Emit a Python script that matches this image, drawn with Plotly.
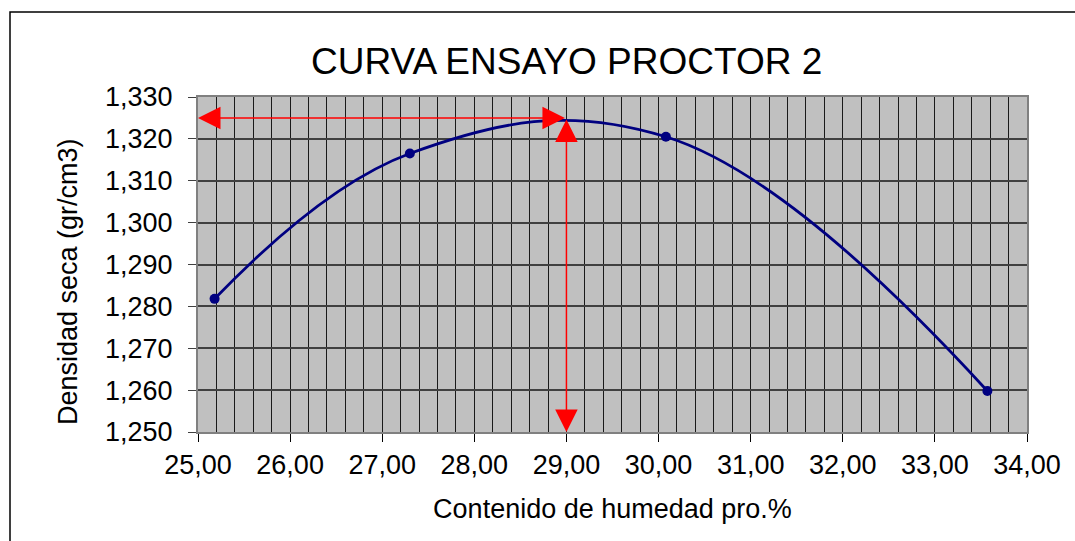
import plotly.graph_objects as go

humedad = [25.18, 27.30, 30.08, 33.57]
densidad = [1.2818, 1.3165, 1.3205, 1.2598]
hum_opt = 29.0
dens_max = 1.3250

title_text = "CURVA ENSAYO PROCTOR 2"
x_title = "Contenido de humedad pro.%"
y_title = "Densidad seca (gr/cm3)"
x_range = [25, 34]
y_range = [1.25, 1.33]
x_ticks = [25, 26, 27, 28, 29, 30, 31, 32, 33, 34]

FONT = "Liberation Sans, Arial, sans-serif"
L, R, T, B = 198, 48, 97, 109
PW, PH = 1075 - L - R, 541 - T - B

fig = go.Figure()
fig.add_trace(go.Scatter(
    x=humedad, y=densidad, mode="lines+markers",
    line=dict(color="#000080", width=2.8, shape="spline", smoothing=1.15),
    marker=dict(color="#000080", size=10),
    showlegend=False, hoverinfo="skip", cliponaxis=False,
))

arrow_common = dict(xref="x", yref="y", axref="x", ayref="y", text="",
                    showarrow=True, arrowhead=2, startarrowhead=2,
                    arrowside="end+start", arrowcolor="#FF0000",
                    arrowwidth=1.5, arrowsize=3.0, startarrowsize=3.0,
                    standoff=0, startstandoff=0)
fig.add_annotation(x=x_range[0], y=dens_max, ax=hum_opt, ay=dens_max, **arrow_common)
fig.add_annotation(x=hum_opt, y=y_range[0], ax=hum_opt, ay=dens_max, **arrow_common)

fig.add_annotation(xref="paper", yref="paper", x=(566 - L) / PW, y=(541 - B - 62) / PH,
                   text=title_text, showarrow=False, xanchor="center", yanchor="middle",
                   font=dict(family=FONT, size=37, color="#000000"))
fig.add_annotation(xref="paper", yref="paper", x=(68 - L) / PW, y=(541 - B - 282) / PH,
                   text=y_title, showarrow=False, xanchor="center", yanchor="middle",
                   textangle=-90, font=dict(family=FONT, size=27, color="#000000"))

fig.add_shape(type="rect", xref="paper", yref="paper",
              x0=(10 - L) / PW, x1=(1090 - L) / PW,
              y0=(541 - B - 560) / PH, y1=(541 - B - 12) / PH,
              line=dict(color="#000000", width=1.5), fillcolor="rgba(0,0,0,0)", layer="below")

fig.update_layout(
    width=1075, height=541,
    margin=dict(l=L, r=R, t=T, b=B),
    paper_bgcolor="#FFFFFF", plot_bgcolor="#C0C0C0",
    separators=",.",
    font=dict(family=FONT, size=27, color="#000000"),
)
fig.update_xaxes(
    range=x_range, tickvals=x_ticks, tickformat=".2f",
    showgrid=True, gridcolor="#1a1a1a", gridwidth=1,
    minor=dict(dtick=0.2, showgrid=True, gridcolor="#1a1a1a", gridwidth=1, ticks=""),
    ticks="outside", ticklen=8, tickcolor="#000000", tickwidth=1,
    showline=True, linecolor="#808080", linewidth=2, mirror=True, zeroline=False,
    tickfont=dict(family=FONT, size=27),
    title=dict(text=x_title, font=dict(family=FONT, size=27), standoff=20),
)
fig.update_yaxes(
    range=y_range, dtick=0.01, tickformat=".3f",
    showgrid=True, gridcolor="#404040", gridwidth=1.5,
    ticks="outside", ticklen=8, tickcolor="#404040", tickwidth=1,
    showline=True, linecolor="#808080", linewidth=2, mirror=True, zeroline=False,
    tickfont=dict(family=FONT, size=27), ticklabelstandoff=10,
)

fig.write_html("out.html", config={"displayModeBar": False},
               post_script="document.body.style.margin='0';document.body.style.overflow='hidden';")
